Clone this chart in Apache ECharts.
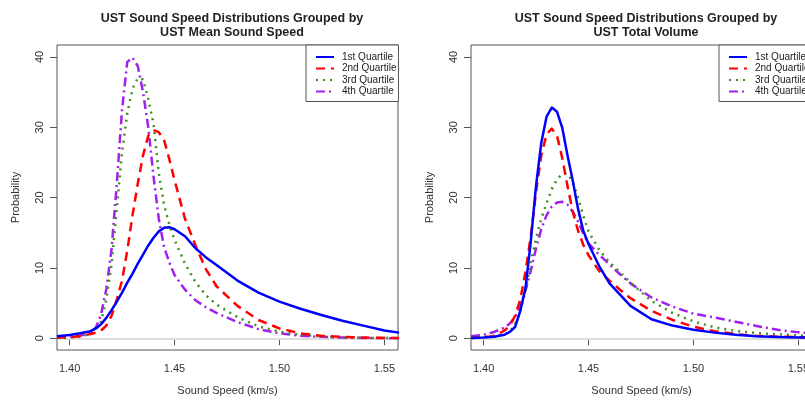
<!DOCTYPE html>
<html>
<head>
<meta charset="utf-8">
<title>UST Sound Speed</title>
<script src="https://cdn.jsdelivr.net/npm/echarts@6/dist/echarts.min.js"></script>
<style>
  html, body { margin: 0; height: 100%; background: #fff; }
  #main { width: 805px; height: 405px; }
</style>
</head>
<body>
<div id="main"></div>
<script>
// sound speed grid (km/s), shared by both panels
var speed = [1.394, 1.40, 1.405, 1.41, 1.4125, 1.415, 1.4175, 1.42, 1.4225, 1.425, 1.4275, 1.43, 1.4325,
  1.435, 1.4375, 1.44, 1.4425, 1.445, 1.4475, 1.45, 1.455, 1.46, 1.465, 1.47, 1.48, 1.49, 1.50,
  1.51, 1.52, 1.53, 1.54, 1.55, 1.557];

// left panel: grouped by mean sound speed
var meanQ1 = [0.3, 0.45, 0.7, 1.0, 1.4, 2.0, 2.9, 4.0, 5.2, 6.5, 7.9, 9.2, 10.6,
  11.9, 13.2, 14.3, 15.2, 15.7, 15.8, 15.5, 14.5, 12.8, 11.5, 10.4, 8.2, 6.5, 5.2,
  4.2, 3.3, 2.5, 1.8, 1.1, 0.8];
var meanQ2 = [0.1, 0.15, 0.3, 0.6, 0.8, 1.1, 1.8, 3.2, 5.5, 8.2, 12.5, 17.5, 22,
  26, 28.8, 29.6, 29.3, 28.2, 25.5, 22.5, 17, 13.2, 9.8, 7.4, 4.6, 2.6, 1.4,
  0.7, 0.35, 0.18, 0.1, 0.05, 0.03];
var meanQ3 = [0.05, 0.1, 0.25, 0.6, 1.2, 2.4, 5.5, 10.5, 18.5, 26.5, 32, 35.5, 37,
  36.8, 34, 30.5, 23.5, 19, 16.2, 14.0, 10.6, 8.0, 6.1, 4.8, 3.0, 1.7, 0.95,
  0.5, 0.25, 0.12, 0.06, 0.03, 0.02];
var meanQ4 = [0.15, 0.2, 0.35, 0.8, 1.5, 3.4, 7.0, 12.7, 22, 32.5, 39.3, 39.9, 38.7,
  35, 30, 23, 17, 13, 10.8, 9.0, 6.9, 5.4, 4.4, 3.6, 2.3, 1.3, 0.7,
  0.35, 0.2, 0.1, 0.05, 0.02, 0.01];

// right panel: grouped by total volume
var volQ1 = [0.05, 0.1, 0.2, 0.5, 0.9, 1.6, 3.9, 7.2, 13.8, 21.7, 27.8, 31.5, 32.8,
  32.2, 29.9, 26, 22.4, 18.4, 15.3, 13.4, 10.3, 7.8, 6.2, 4.6, 2.7, 1.8, 1.2,
  0.8, 0.5, 0.3, 0.19, 0.12, 0.1];
var volQ2 = [0.05, 0.15, 0.3, 1.1, 1.8, 3.2, 5.5, 9.5, 14.5, 20.8, 26, 29, 29.8,
  28.8, 25.6, 21.6, 18, 15.3, 13.3, 11.8, 9.6, 8.2, 6.9, 5.7, 3.9, 2.6, 1.65,
  1.0, 0.6, 0.35, 0.22, 0.15, 0.12];
var volQ3 = [0.1, 0.2, 0.35, 0.6, 0.9, 2.0, 3.8, 6.8, 10.8, 14.2, 17, 19.2, 21.2,
  22.6, 23.4, 23.4, 22.2, 20, 17.4, 15.2, 12.6, 10.8, 9.4, 7.9, 5.3, 3.6, 2.4,
  1.55, 1.05, 0.75, 0.55, 0.4, 0.33];
var volQ4 = [0.3, 0.5, 0.9, 1.5, 2.1, 3.0, 4.6, 6.8, 9.6, 12.8, 15.5, 17.5, 18.7,
  19.3, 19.4, 19.0, 18.0, 16.6, 14.9, 13.5, 11.9, 10.5, 9.1, 7.8, 5.8, 4.5, 3.5,
  2.95, 2.35, 1.75, 1.2, 0.85, 0.7];

var quartiles = ['1st Quartile', '2nd Quartile', '3rd Quartile', '4th Quartile'];
var xTicks = [1.40, 1.45, 1.50, 1.55];
var yTicks = [0, 10, 20, 30, 40];

var colors = ['#0000FF', '#FF0000', '#3f8f1c', '#A020F0'];
var dashes = ['solid', [9, 6], [2, 5], [9, 4, 2, 4]];
var font = 'Liberation Sans, Arial, sans-serif';

function pairs(vals) {
  return speed.map(function (x, i) { return [x, vals[i]]; });
}

function makeX(idx) {
  return {
    type: 'value', gridIndex: idx, min: 1.394, max: 1.5565,
    name: 'Sound Speed (km/s)', nameLocation: 'middle', nameGap: 35,
    nameTextStyle: { color: '#333', fontSize: 11, fontFamily: font },
    axisLine: { show: false },
    axisTick: { show: true, length: 7, customValues: xTicks, lineStyle: { color: '#555' } },
    axisLabel: { customValues: xTicks, margin: 13, color: '#333', fontSize: 11, fontFamily: font,
      formatter: function (v) { return v.toFixed(2); } },
    splitLine: { show: false }
  };
}

function makeY(idx) {
  return {
    type: 'value', gridIndex: idx, min: -1.67, max: 41.7,
    name: 'Probability', nameLocation: 'middle', nameGap: 36, nameRotate: 90,
    nameTextStyle: { color: '#333', fontSize: 11, fontFamily: font },
    axisLine: { show: false },
    axisTick: { show: true, length: 7, customValues: yTicks, lineStyle: { color: '#555' } },
    axisLabel: { customValues: yTicks, rotate: 90, margin: 12, color: '#333', fontSize: 11, fontFamily: font },
    splitLine: { show: false }
  };
}

function makeSeries(idx, groups) {
  return groups.map(function (vals, k) {
    var s = {
      type: 'line', name: quartiles[k], xAxisIndex: idx, yAxisIndex: idx,
      data: pairs(vals), showSymbol: false, symbol: 'none',
      smooth: false, z: 5 - k,
      lineStyle: { color: colors[k], width: 2.5, type: dashes[k], join: 'round' },
      itemStyle: { color: colors[k] }
    };
    if (k === 0) {
      s.markLine = {
        silent: true, symbol: 'none', label: { show: false }, z: 1,
        lineStyle: { color: '#dddddd', width: 2, type: 'solid' },
        data: [{ yAxis: 0 }]
      };
    }
    return s;
  });
}

function makeLegend(left) {
  return {
    data: quartiles, orient: 'vertical', left: left, top: 45,
    padding: [7, 2, 5, 9], itemGap: 1.5, itemWidth: 18, itemHeight: 10,
    backgroundColor: '#fff', borderColor: '#555', borderWidth: 1, borderRadius: 0,
    itemStyle: { opacity: 0 },
    textStyle: { color: '#222', fontSize: 10, fontFamily: font, padding: [0, 0, 0, 3] },
    selectedMode: false
  };
}

// the right panel runs past the picture edge, as in the original
var chart = echarts.init(document.getElementById('main'));
chart.setOption({
  animation: false,
  backgroundColor: '#fff',
  title: [
    { text: 'UST Sound Speed Distributions Grouped by\nUST Mean Sound Speed', left: 227, top: 7,
      textAlign: 'center',
      textStyle: { fontSize: 12.5, fontWeight: 'bold', lineHeight: 14, color: '#222', fontFamily: font } },
    { text: 'UST Sound Speed Distributions Grouped by\nUST Total Volume', left: 641, top: 7,
      textAlign: 'center',
      textStyle: { fontSize: 12.5, fontWeight: 'bold', lineHeight: 14, color: '#222', fontFamily: font } }
  ],
  legend: [makeLegend(306), makeLegend(719)],
  grid: [
    { left: 57, top: 45, width: 341, height: 305, outerBoundsMode: 'none', show: true,
      borderColor: '#555', borderWidth: 1, backgroundColor: 'transparent' },
    { left: 471, top: 45, width: 341, height: 305, outerBoundsMode: 'none', show: true,
      borderColor: '#555', borderWidth: 1, backgroundColor: 'transparent' }
  ],
  xAxis: [makeX(0), makeX(1)],
  yAxis: [makeY(0), makeY(1)],
  series: makeSeries(0, [meanQ1, meanQ2, meanQ3, meanQ4])
    .concat(makeSeries(1, [volQ1, volQ2, volQ3, volQ4]))
});
</script>
</body>
</html>
